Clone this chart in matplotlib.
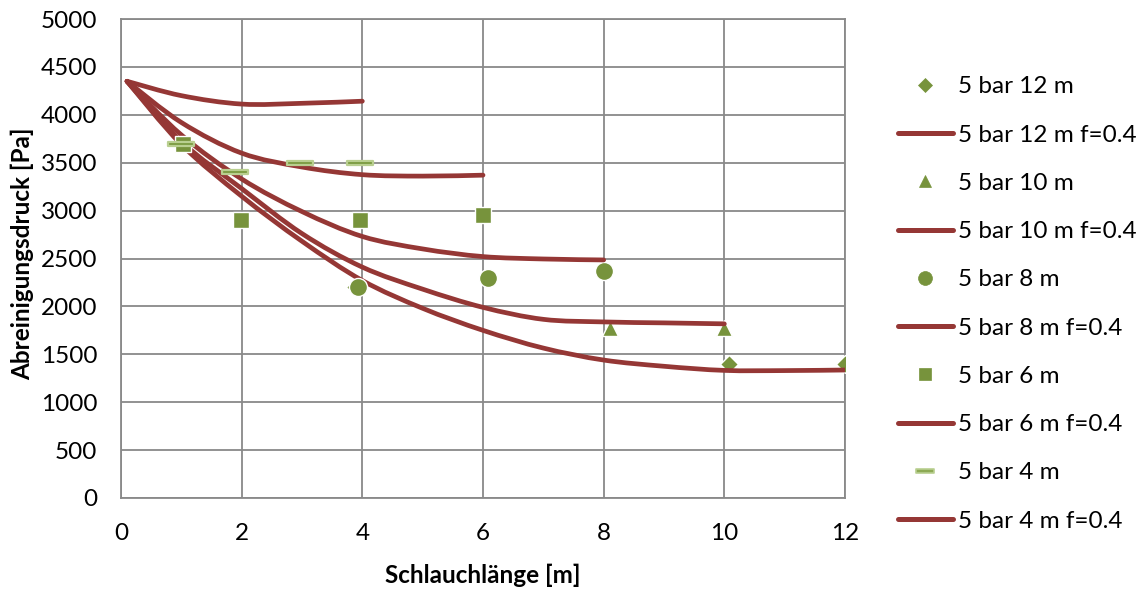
import numpy as np
import matplotlib
matplotlib.use("Agg")
import matplotlib.pyplot as plt
from matplotlib.path import Path
from matplotlib.patches import PathPatch
from matplotlib.lines import Line2D

plt.rcParams['font.family'] = ['Lato', 'DejaVu Sans']

GREEN = '#77933C'
DASH_EDGE = '#B9CF90'
RED = '#953735'
GRID = '#898989'

# Messwerte (Abreinigungsdruck in Pa ueber Schlauchlaenge in m)
x_12m = [3.88, 10.08, 12.0]
y_12m = [2200, 1400, 1400]
x_10m = [8.1, 10.0]
y_10m = [1770, 1770]
x_8m = [3.93, 6.09, 8.0]
y_8m = [2200, 2300, 2370]
x_6m = [1.03, 1.99, 3.96, 6.0]
y_6m = [3700, 2900, 2900, 2950]
x_4m = [0.99, 1.89, 2.97, 3.96]
y_4m = [3700, 3400, 3500, 3500]

# Rechenwerte mit f=0.4
fx_12m = [0.1, 1, 2, 3, 4, 5, 6, 7, 8, 9, 10, 11, 12]
fy_12m = [4350, 3690, 3150, 2680, 2270, 1980, 1750, 1565, 1440, 1375, 1332, 1330, 1336]
fx_10m = [0.1, 1, 2, 3, 4, 5, 6, 7, 8, 9, 10]
fy_10m = [4350, 3720, 3230, 2760, 2410, 2180, 1990, 1865, 1838, 1828, 1818]
fx_8m = [0.1, 1, 2, 3, 4, 5, 6, 7, 8]
fy_8m = [4350, 3790, 3330, 2990, 2730, 2600, 2520, 2495, 2485]
fx_6m = [0.1, 1, 2, 3, 4, 5, 6]
fy_6m = [4350, 3920, 3600, 3455, 3375, 3360, 3370]
fx_4m = [0.1, 1, 2, 3, 4]
fy_4m = [4350, 4200, 4112, 4120, 4142]

labels = ['5 bar 12 m', '5 bar 10 m', '5 bar 8 m', '5 bar 6 m', '5 bar 4 m']

# rechteckiger Strich als Marker
dash = Path([(-1, -0.18), (1, -0.18), (1, 0.18), (-1, 0.18), (-1, -0.18)],
            [Path.MOVETO, Path.LINETO, Path.LINETO, Path.LINETO, Path.CLOSEPOLY])

marker_styles = [
    dict(marker='D', ms=9, mfc=GREEN, mec='white', mew=1.0),
    dict(marker='^', ms=11.5, mfc=GREEN, mec='white', mew=1.0),
    dict(marker='o', ms=13, mfc=GREEN, mec='white', mew=1.0),
    dict(marker='s', ms=12, mfc=GREEN, mec='white', mew=1.0),
    dict(marker=dash, ms=19, mfc='#7A9A40', mec=DASH_EDGE, mew=1.6),
]
legend_styles = [
    dict(marker='D', ms=7, mfc=GREEN, mec=GREEN, mew=0.5),
    dict(marker='^', ms=9, mfc=GREEN, mec=GREEN, mew=0.5),
    dict(marker='o', ms=10, mfc=GREEN, mec=GREEN, mew=0.5),
    dict(marker='s', ms=9, mfc=GREEN, mec=GREEN, mew=0.5),
    dict(marker=dash, ms=13, mfc='#8DAA55', mec=DASH_EDGE, mew=1.2),
]


def smooth_path(xs, ys):
    # geglaettete Linie aus kubischen Bezier-Segmenten (Catmull-Rom)
    pts = np.column_stack([xs, ys]).astype(float)
    n = len(pts)
    verts = [pts[0]]
    codes = [Path.MOVETO]
    for i in range(n - 1):
        p0 = pts[max(i - 1, 0)]
        p1 = pts[i]
        p2 = pts[i + 1]
        p3 = pts[min(i + 2, n - 1)]
        verts += [p1 + (p2 - p0) / 6, p2 - (p3 - p1) / 6, p2]
        codes += [Path.CURVE4] * 3
    return Path(verts, codes)


fig = plt.figure(figsize=(11.4, 5.9), dpi=100)
ax = fig.add_axes([121 / 1140, 1 - 498 / 590, 724 / 1140, 479 / 590])

series = [
    (x_12m, y_12m, fx_12m, fy_12m),
    (x_10m, y_10m, fx_10m, fy_10m),
    (x_8m, y_8m, fx_8m, fy_8m),
    (x_6m, y_6m, fx_6m, fy_6m),
    (x_4m, y_4m, fx_4m, fy_4m),
]

handles = []
leg_labels = []
z = 3
for (mx, my, lx, ly), lab, ms, ls in zip(series, labels, marker_styles, legend_styles):
    ax.plot(mx, my, linestyle='none', zorder=z, **ms)
    patch = PathPatch(smooth_path(lx, ly), fill=False, edgecolor=RED, lw=3.4,
                      capstyle='round', joinstyle='round', zorder=z + 1)
    ax.add_patch(patch)
    z += 2
    handles.append(Line2D([], [], linestyle='none', **ls))
    leg_labels.append(lab)
    handles.append(Line2D([], [], color=RED, lw=3.6, solid_capstyle='round'))
    leg_labels.append(lab + ' f=0.4')

ax.set_xlim(0, 12)
ax.set_ylim(0, 5000)
ax.set_xticks(np.arange(0, 13, 2))
ax.set_yticks(np.arange(0, 5001, 500))
ax.grid(True, color=GRID, lw=1.3)
ax.set_axisbelow(True)
for sp in ax.spines.values():
    sp.set_color(GRID)
    sp.set_linewidth(1.3)
ax.tick_params(axis='both', length=0, labelsize=17.5, colors='black')
ax.tick_params(axis='x', pad=18)
ax.tick_params(axis='y', pad=17)

ax.set_xlabel('Schlauchlänge [m]', fontsize=17.5, fontweight='bold')
ax.set_ylabel('Abreinigungsdruck [Pa]', fontsize=17.5, fontweight='bold')
ax.xaxis.set_label_coords(0.5, -0.138)
ax.yaxis.set_label_coords(-0.12, 0.51)

fig.legend(handles, leg_labels, loc='center left',
           bbox_to_anchor=(898 / 1140, 1 - 304 / 590), frameon=False,
           fontsize=17.5, handlelength=2.25, handletextpad=0.2,
           labelspacing=1.12, borderpad=0, borderaxespad=0)

fig.savefig('out.png', dpi=100)
